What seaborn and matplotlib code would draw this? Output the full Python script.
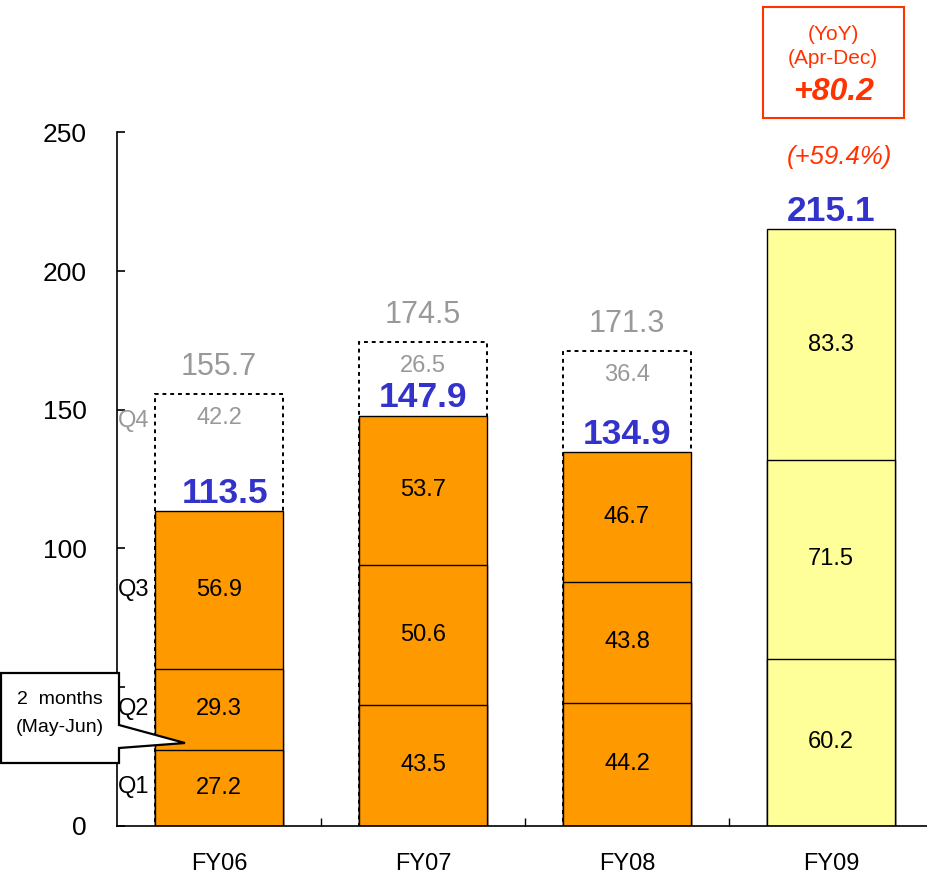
import matplotlib
matplotlib.use("Agg")
import matplotlib.pyplot as plt
from matplotlib.patches import Polygon, Rectangle
import numpy as np
import pandas as pd
import seaborn as sns

# Quarterly results (Apr-Dec cumulative shown solid, Q4 shown dotted)
years = ["FY06", "FY07", "FY08", "FY09"]
q1 = [27.2, 43.5, 44.2, 60.2]
q2 = [29.3, 50.6, 43.8, 71.5]
q3 = [56.9, 53.7, 46.7, 83.3]
q4 = [42.2, 26.5, 36.4]                 # FY09 Q4 not yet available
apr_dec_total = [113.5, 147.9, 134.9, 215.1]
full_year_total = [155.7, 174.5, 171.3]
quarter_names = ["Q1", "Q2", "Q3", "Q4"]
quarter_label_y = [14, 42, 85, 146]
y_ticks = [0, 50, 100, 150, 200, 250]
y_tick_labels = ["0", "", "100", "150", "200", "250"]  # 50 sits under the callout
yoy_lines = ["(YoY)", "(Apr-Dec)"]
yoy_change = "+80.2"
yoy_pct = "(+59.4%)"
callout_lines = ["2  months", "(May-Jun)"]

ORANGE = "#FF9900"
YELLOW = "#FFFF99"
BLUE = "#3333CC"
GRAY = "#999999"
RED = "#FF3300"
bar_colors = dict(zip(years, [ORANGE, ORANGE, ORANGE, YELLOW]))

sns.set_theme(style="white")
plt.rcParams["font.family"] = ["Liberation Sans", "DejaVu Sans"]

W, H = 928, 876
fig = plt.figure(figsize=(W / 100, H / 100), dpi=100)
ax = fig.add_axes([117 / W, (H - 825.5) / H, (933 - 117) / W, (825.5 - 132.4) / H])

c1 = np.array(q1)
c2 = c1 + np.array(q2)
c3 = c2 + np.array(q3)
c4 = c3[:3] + np.array(q4)

BAR_W = 0.626

# Dotted outline for the remaining quarter
sns.barplot(x=years[:3], y=c4, order=years, ax=ax, color="white", width=BAR_W,
            errorbar=None, saturation=1, edgecolor="black", linewidth=1.4,
            linestyle=(0, (2, 2)), zorder=1)

# Solid stacked quarters, drawn largest-cumulative first
for cum in (c3, c2, c1):
    df = pd.DataFrame({"year": years, "value": cum})
    sns.barplot(data=df, x="year", y="value", hue="year", palette=bar_colors,
                order=years, legend=False, ax=ax, width=BAR_W, errorbar=None,
                saturation=1, edgecolor="black", linewidth=1.0, zorder=2)

ax.set_xlim(-0.5, 3.5)
ax.set_ylim(0, 250)
ax.set_xlabel("")
ax.set_ylabel("")

# Axes styling
for side in ("top", "right"):
    ax.spines[side].set_visible(False)
for side in ("left", "bottom"):
    ax.spines[side].set_color("black")
    ax.spines[side].set_linewidth(1.2)
ax.set_yticks(y_ticks)
ax.set_yticklabels(y_tick_labels)
ax.tick_params(axis="y", direction="in", length=6, width=1.2, color="black",
               pad=22, labelsize=19, labelcolor="black", left=True)
ax.set_xticks(range(4))
ax.set_xticklabels(years)
ax.tick_params(axis="x", which="major", length=0, pad=20, labelsize=17,
               labelcolor="black")
ax.set_xticks([0.5, 1.5, 2.5], minor=True)
ax.tick_params(axis="x", which="minor", direction="in", length=6, width=1.0,
               color="black", bottom=True)

# Segment value labels
for i in range(4):
    mids = [c1[i] / 2, (c1[i] + c2[i]) / 2, (c2[i] + c3[i]) / 2]
    for m, v in zip(mids, (q1[i], q2[i], q3[i])):
        ax.text(i, m, f"{v:.1f}", ha="center", va="center", fontsize=17,
                color="black", zorder=5)

# Q4 values, full-year totals and Apr-Dec totals
for i in range(3):
    ax.text(i, c4[i] - 8.5, f"{q4[i]:.1f}", ha="center", va="center",
            fontsize=17, color=GRAY, zorder=5)
    ax.text(i, full_year_total[i] + 9.5, f"{full_year_total[i]:.1f}",
            ha="center", va="center", fontsize=22, color=GRAY, zorder=5,
            clip_on=False)
for i in range(4):
    ax.text(i + 0.03 if i == 0 else i, apr_dec_total[i] + 6.3,
            f"{apr_dec_total[i]:.1f}", ha="center", va="center",
            fontsize=25.5, fontweight="bold", color=BLUE, zorder=5, clip_on=False)

# Quarter names along the axis
for name, y in zip(quarter_names, quarter_label_y):
    ax.text(-0.494, y, name, ha="left", va="center", fontsize=17,
            color=GRAY if name == "Q4" else "black", zorder=5)

# Year-on-year box for FY09
ax.text(3.04, 241.1, yoy_pct, ha="center", va="center", fontsize=18.5,
        fontstyle="italic", color=RED, clip_on=False)
fig.add_artist(Rectangle((763 / W, (H - 118) / H), 141 / W, 111 / H,
                         transform=fig.transFigure, fill=False,
                         edgecolor=RED, linewidth=1.5))
fig.text(833 / W, 1 - 35 / H, yoy_lines[0], ha="center", va="center",
         fontsize=15, color=RED)
fig.text(833 / W, 1 - 58 / H, yoy_lines[1], ha="center", va="center",
         fontsize=15, color=RED)
fig.text(833 / W, 1 - 92 / H, yoy_change, ha="center", va="center",
         fontsize=23, fontweight="bold", fontstyle="italic", color=RED)

# Callout for the shortened first fiscal year
pts_px = [(1, 673), (119, 673), (119, 725), (185, 743), (119, 748),
          (119, 763), (1, 763)]
pts = [(x / W, 1 - y / H) for x, y in pts_px]
fig.add_artist(Polygon(pts, closed=True, transform=fig.transFigure,
                       facecolor="white", edgecolor="black", linewidth=1.6,
                       zorder=10))
fig.text(60 / W, 1 - 700 / H, callout_lines[0], ha="center", va="center",
         fontsize=14, color="black", zorder=11)
fig.text(60 / W, 1 - 728 / H, callout_lines[1], ha="center", va="center",
         fontsize=14, color="black", zorder=11)

fig.savefig("out.png", dpi=100, facecolor="white")
